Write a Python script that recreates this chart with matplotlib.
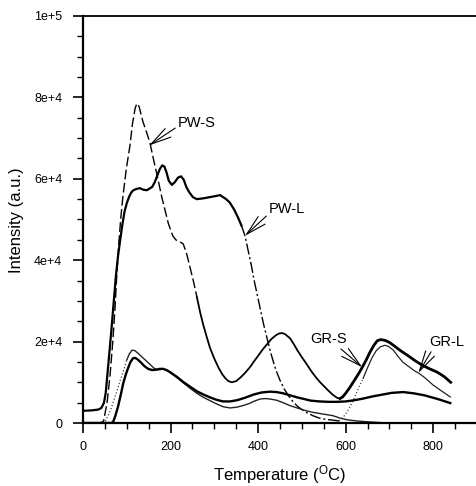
import numpy as np
import matplotlib
matplotlib.use("Agg")
import matplotlib.pyplot as plt
from matplotlib.ticker import MultipleLocator, FixedLocator, FixedFormatter

plt.rcParams['font.family'] = ['Liberation Sans', 'DejaVu Sans']

# PW-S : sharp peak, then a second hump down to the GR-S rise
pws_temp = np.array([0, 40, 47, 55, 62, 68, 73, 77, 81, 86, 91, 99, 107, 113, 119, 123, 128,
                     137, 145, 153, 161, 169, 180, 195, 205, 212, 220, 229, 237, 245, 253,
                     260, 268, 275, 283, 290, 300, 310, 318, 325, 332, 340, 350, 360, 371,
                     382, 391, 400, 410, 420, 430, 440, 448, 455, 462, 473, 482, 490, 501,
                     512, 521, 530, 540, 549, 560, 570, 580, 587])
pws_int = np.array([0, 0, 500, 5000, 12000, 20000, 28000, 36000, 43000, 50000, 55500, 62500,
                    68000, 73500, 77300, 78500, 77800, 74000, 71500, 68800, 64800, 61000,
                    55500, 49000, 46000, 45000, 44600, 44000, 41500, 38000, 34500, 31000,
                    27000, 24000, 21000, 18500, 15800, 13500, 12000, 11000, 10300, 10000,
                    10300, 11200, 12400, 13800, 15200, 16500, 18000, 19300, 20600, 21500,
                    22000, 22100, 21800, 20800, 19300, 17800, 16000, 14300, 12800, 11500,
                    10200, 9200, 8000, 7000, 6200, 6000])
grs_temp = np.array([587, 593, 600, 610, 620, 630, 638, 647, 655, 664, 672, 680, 690, 700,
                     709, 725, 747, 760, 775, 790, 809, 825, 840])
grs_int = np.array([6000, 6400, 7300, 8800, 10500, 12200, 13700, 15500, 17300, 19000, 20200,
                    20500, 20300, 19800, 19100, 17800, 16200, 15200, 14200, 13400, 12500,
                    11400, 10000])

# PW-L : broad plateau, then the GR-L peak
pwl_temp = np.array([0, 20, 35, 42, 48, 52, 55, 60, 65, 70, 75, 80, 85, 90, 95, 100, 105,
                     110, 115, 122, 130, 138, 146, 152, 158, 164, 169, 175, 181, 186, 191,
                     196, 203, 210, 217, 224, 230, 236, 242, 251, 260, 275, 290, 305, 313,
                     320, 327, 335, 345, 354, 362, 370, 377, 385, 391, 398, 405, 412, 420,
                     430, 440, 450, 460, 470, 480, 490, 500, 512, 525, 540, 555, 571, 585])
pwl_int = np.array([3000, 3100, 3300, 3700, 5000, 7500, 11000, 17000, 23000, 29500, 36000,
                    41000, 45000, 48800, 52000, 54000, 55500, 56600, 57200, 57500, 57700,
                    57300, 57200, 57600, 58000, 59200, 60600, 62300, 63300, 63000, 61500,
                    59500, 58500, 59200, 60300, 60600, 59800, 58000, 56800, 55500, 55000,
                    55200, 55500, 55800, 56000, 55500, 55000, 54200, 52500, 50500, 48500,
                    46000, 42500, 38500, 35000, 31500, 28000, 24500, 21000, 16800, 13200,
                    10500, 8300, 6600, 5200, 4100, 3300, 2500, 1800, 1200, 900, 700, 500])
grl_temp = np.array([585, 595, 605, 615, 625, 632, 640, 650, 660, 670, 679, 690, 698, 709,
                     720, 731, 745, 756, 766, 780, 800, 820, 839])
grl_int = np.array([500, 1500, 3000, 5000, 7500, 9200, 11000, 13600, 16000, 17800, 18700,
                    19100, 18800, 17900, 16300, 14900, 13800, 12900, 12300, 11200, 9300,
                    7800, 6400])

# low curves
ga_temp = np.array([0, 48, 52, 58, 64, 70, 78, 85, 93, 100, 106, 112, 118, 125, 133, 140,
                    148, 155, 162, 169, 176, 183, 192, 200, 215, 230, 245, 260, 275, 290,
                    305, 320, 336, 352, 366, 380, 392, 405, 416, 427, 442, 457, 472, 489,
                    507, 526, 548, 571, 587, 603, 625, 650, 680, 700, 840])
ga_int = np.array([0, 0, 700, 2000, 3500, 5500, 8000, 10500, 13000, 15500, 17000, 17900,
                   17800, 17200, 16400, 15700, 14900, 14200, 13500, 13100, 13100, 13300,
                   12900, 12300, 11100, 9800, 8500, 7300, 6300, 5500, 4700, 4000, 3700,
                   3900, 4300, 4800, 5400, 5900, 6000, 5900, 5600, 5000, 4300, 3700, 3100,
                   2600, 2200, 1800, 1200, 800, 500, 300, 100, 0, 0])
gb_temp = np.array([0, 65, 69, 74, 80, 86, 92, 98, 103, 108, 114, 119, 125, 132, 140, 149,
                    158, 167, 175, 183, 191, 199, 215, 230, 245, 260, 275, 290, 305, 320,
                    336, 352, 370, 390, 408, 427, 442, 457, 473, 489, 505, 520, 540, 560,
                    580, 600, 620, 640, 660, 680, 705, 731, 755, 780, 810, 839])
gb_int = np.array([0, 0, 300, 1800, 4000, 6800, 9800, 12000, 13500, 14900, 15900, 16000,
                   15600, 14900, 14000, 13300, 13000, 13100, 13300, 13300, 13000, 12500,
                   11300, 10000, 8900, 7800, 7000, 6300, 5700, 5300, 5300, 5600, 6200,
                   7000, 7500, 7700, 7600, 7300, 6800, 6300, 5900, 5500, 5300, 5200, 5200,
                   5300, 5600, 6000, 6500, 6900, 7400, 7600, 7300, 6800, 5900, 4900])

ytick_vals = [0, 20000, 40000, 60000, 80000, 100000]
ytick_labels = ["0", "2e+4", "4e+4", "6e+4", "8e+4", "1e+5"]

fig = plt.figure(figsize=(4.77, 4.86), dpi=100)
ax = fig.add_axes([83/477, 1-423/486, 394/477, 407/486])

# PW-S
m = pws_temp <= 260
ax.plot(pws_temp[m], pws_int[m], color='k', lw=1.0, ls=(0, (7, 2.5)))
m = pws_temp >= 260
ax.plot(pws_temp[m], pws_int[m], color='k', lw=1.3)
ax.plot(grs_temp, grs_int, color='k', lw=2.0)

# PW-L
m = pwl_temp <= 362
ax.plot(pwl_temp[m], pwl_int[m], color='k', lw=1.6)
m = pwl_temp >= 362
ax.plot(pwl_temp[m], pwl_int[m], color='k', lw=1.0, ls=(0, (8, 2, 1.5, 2)))
m = grl_temp <= 640
ax.plot(grl_temp[m], grl_int[m], color='#444444', lw=0.9, ls=':')
m = grl_temp >= 640
ax.plot(grl_temp[m], grl_int[m], color='#222222', lw=0.9)

# lower curves
m = ga_temp <= 100
ax.plot(ga_temp[m], ga_int[m], color='#444444', lw=0.9, ls=':')
m = ga_temp >= 100
ax.plot(ga_temp[m], ga_int[m], color='#222222', lw=1.0)
ax.plot(gb_temp, gb_int, color='k', lw=1.7)

ax.set_xlim(0, 900)
ax.set_ylim(0, 100000)
ax.xaxis.set_major_locator(MultipleLocator(200))
ax.xaxis.set_minor_locator(MultipleLocator(50))
ax.yaxis.set_major_locator(FixedLocator(ytick_vals))
ax.yaxis.set_major_formatter(FixedFormatter(ytick_labels))
ax.yaxis.set_minor_locator(MultipleLocator(5000))
ax.tick_params(which='major', direction='out', length=7, width=1.2, labelsize=9)
ax.tick_params(which='minor', direction='out', length=4, width=1.0)
ax.tick_params(axis='x', which='major', pad=6)
ax.tick_params(axis='y', which='major', pad=8)

ax.spines['left'].set_linewidth(1.6)
ax.spines['bottom'].set_linewidth(1.6)
ax.spines['top'].set_linewidth(1.3)
ax.spines['right'].set_linewidth(0.6)
ax.spines['right'].set_color('#999999')

arrow = dict(arrowstyle='->,head_length=1.4,head_width=0.35', color='k', lw=0.8,
             shrinkA=0, shrinkB=0)
ax.annotate('PW-S', xy=(151, 68200), xytext=(217, 73600), fontsize=10.5,
            ha='left', va='center', arrowprops=dict(arrow, relpos=(0, 0.3)))
ax.annotate('PW-L', xy=(370, 46000), xytext=(425, 52500), fontsize=10.5,
            ha='left', va='center', arrowprops=dict(arrow, relpos=(0, 0.2)))
ax.annotate('GR-S', xy=(638, 13700), xytext=(519, 20600), fontsize=10.5,
            ha='left', va='center', arrowprops=dict(arrow, relpos=(0.75, 0)))
ax.annotate('GR-L', xy=(766, 12300), xytext=(791, 19900), fontsize=10.5,
            ha='left', va='center', arrowprops=dict(arrow, relpos=(0.1, 0)))

fig.text(17/477, 1-220/486, 'Intensity (a.u.)', rotation=90, ha='center', va='center',
         fontsize=12)
fig.text(280/477, 1-475/486, r'Temperature ($\mathregular{^O}$C)', ha='center',
         va='center', fontsize=12)

fig.savefig('out.png', dpi=100)
